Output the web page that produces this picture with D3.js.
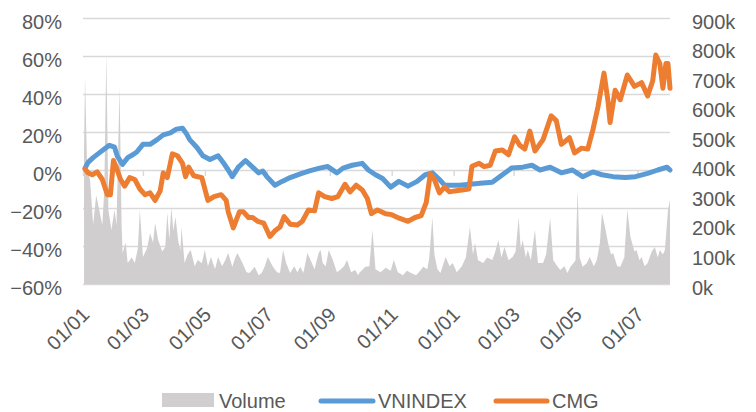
<!DOCTYPE html>
<html>
<head>
<meta charset="utf-8">
<script src="https://cdn.jsdelivr.net/npm/d3@7"></script>
<style>
  html, body { margin: 0; padding: 0; background: #fff; }
  svg text { font-family: "Liberation Sans", Arial, sans-serif; fill: #595959; }
</style>
</head>
<body>
<div id="chart"></div>
<script>
// Tick labels for the date axis (every 2 months)
var tickDates = ["2017-01-01","2017-03-01","2017-05-01","2017-07-01","2017-09-01","2017-11-01",
                 "2018-01-01","2018-03-01","2018-05-01","2018-07-01"];
var leftTicks = [-0.6, -0.4, -0.2, 0, 0.2, 0.4, 0.6, 0.8];
var rightTicks = [0, 100000, 200000, 300000, 400000, 500000, 600000, 700000, 800000, 900000];

// CMG: % change
var cmgDates = ["2017-01-03","2017-01-06","2017-01-10","2017-01-15","2017-01-20","2017-01-25","2017-01-28","2017-01-31",
  "2017-02-03","2017-02-07","2017-02-11","2017-02-16","2017-02-21","2017-02-26","2017-03-03","2017-03-08","2017-03-13",
  "2017-03-18","2017-03-21","2017-03-25","2017-03-30","2017-04-04","2017-04-09","2017-04-12","2017-04-15","2017-04-20",
  "2017-04-28","2017-05-04","2017-05-10","2017-05-17","2017-05-22","2017-05-24","2017-05-29","2017-06-04","2017-06-08",
  "2017-06-13","2017-06-17","2017-06-22","2017-06-28","2017-07-04","2017-07-09","2017-07-14","2017-07-18","2017-07-24",
  "2017-07-31","2017-08-05","2017-08-11","2017-08-17","2017-08-21","2017-08-27","2017-09-03","2017-09-09","2017-09-16",
  "2017-09-21","2017-09-27","2017-10-03","2017-10-08","2017-10-12","2017-10-18","2017-10-26","2017-11-01","2017-11-09",
  "2017-11-17","2017-11-24","2017-11-30","2017-12-05","2017-12-09","2017-12-13","2017-12-18","2017-12-23","2017-12-28",
  "2018-01-02","2018-01-09","2018-01-16","2018-01-19","2018-01-26","2018-01-31","2018-02-06","2018-02-11","2018-02-18",
  "2018-02-24","2018-03-02","2018-03-07","2018-03-12","2018-03-17","2018-03-22","2018-03-30","2018-04-07","2018-04-12",
  "2018-04-17","2018-04-25","2018-04-30","2018-05-07","2018-05-13","2018-05-18","2018-05-23","2018-05-29","2018-06-02",
  "2018-06-04","2018-06-09","2018-06-14","2018-06-21","2018-06-28","2018-07-05","2018-07-11","2018-07-16","2018-07-19",
  "2018-07-23","2018-07-26","2018-07-29","2018-07-31","2018-08-02"];
var cmgPct = [0.5,-1.5,-2.5,-1,-5,-13,-13,5,
  1,-5,-8.5,-4,-5,-10,-13,-12,-16,
  -11,-1.5,-4,8.5,7.5,3.5,-3.5,1.5,-3,
  -4,-16,-14,-13,-16,-22,-30.5,-22,-22,
  -25,-25,-27,-28,-35,-32,-30,-24.5,-28.5,
  -29,-27,-21,-21.5,-12,-14,-15,-14,-7.5,
  -11.5,-8,-10.5,-15,-23,-21,-23,-23.5,-25.5,
  -27,-25,-24,-17,-2,-5,-12,-9,-11.5,
  -11,-10.5,-10,2,3.5,1.8,2.5,10,10.5,
  8,17.5,13,11,20.5,10,16,28.5,26,
  13.5,17,9,11.5,11,21,33,51,36,
  25,42,37,50,44,46,39,47,60.5,
  56,43,56,56,43];

// VNINDEX: % change
var vnDates = ["2017-01-03","2017-01-06","2017-01-11","2017-01-17","2017-01-22","2017-01-27","2017-02-01","2017-02-04",
  "2017-02-09","2017-02-14","2017-02-19","2017-02-23","2017-03-01","2017-03-08","2017-03-15","2017-03-21","2017-03-28",
  "2017-04-03","2017-04-09","2017-04-13","2017-04-16","2017-04-23","2017-04-29","2017-05-06","2017-05-14","2017-05-19",
  "2017-05-24","2017-05-28","2017-06-03","2017-06-10","2017-06-18","2017-06-23","2017-06-27","2017-07-01","2017-07-09",
  "2017-07-16","2017-07-24","2017-08-03","2017-08-12","2017-08-22","2017-08-30","2017-09-08","2017-09-14","2017-09-23",
  "2017-10-03","2017-10-09","2017-10-16","2017-10-23","2017-10-31","2017-11-08","2017-11-17","2017-11-26","2017-12-04",
  "2017-12-11","2017-12-18","2017-12-23","2018-01-07","2018-01-17","2018-01-27","2018-02-08","2018-02-18","2018-02-27",
  "2018-03-10","2018-03-19","2018-03-27","2018-04-06","2018-04-17","2018-04-28","2018-05-08","2018-05-18","2018-05-27",
  "2018-06-07","2018-06-19","2018-06-29","2018-07-11","2018-07-21","2018-07-30","2018-08-02"];
var vnPct = [1,4,6.5,9,11,13,12,7,
  3,6.5,8,9.5,13.5,13.5,16,18.5,19.5,
  21.5,22,19,16,12,7.5,5.5,7.5,4,
  0,-3.5,1.5,5,1,-1.5,-0.5,-3.5,-8,
  -6,-4,-2,-0.5,1,1.8,-1.5,1,2.5,
  3.5,0,-2.5,-4.5,-9,-6,-8.5,-6,-2.5,
  -1.5,-5,-8,-8,-7.5,-7,-6.5,-2.5,1,
  1.5,2.5,0,1.5,-1.5,0,-3.5,-1,-2.5,
  -3.5,-4,-3.5,-1.8,0,1.5,0];

// Volume (thousand shares)
var volDates = ["2017-01-02","2017-01-03","2017-01-05","2017-01-08","2017-01-11","2017-01-14","2017-01-17","2017-01-20",
  "2017-01-22","2017-01-24","2017-01-26","2017-01-29","2017-02-01","2017-02-03","2017-02-06","2017-02-08","2017-02-09",
  "2017-02-12","2017-02-14","2017-02-18","2017-02-21","2017-02-24","2017-02-26","2017-03-01","2017-03-05","2017-03-08",
  "2017-03-11","2017-03-13","2017-03-16","2017-03-20","2017-03-23","2017-03-25","2017-03-27","2017-03-29","2017-03-31",
  "2017-04-02","2017-04-05","2017-04-07","2017-04-08","2017-04-11","2017-04-14","2017-04-17","2017-04-21","2017-04-24",
  "2017-04-28","2017-05-01","2017-05-04","2017-05-07","2017-05-11","2017-05-14","2017-05-18","2017-05-21","2017-05-24",
  "2017-05-28","2017-05-31","2017-06-02","2017-06-07","2017-06-11","2017-06-14","2017-06-19","2017-06-23","2017-06-26",
  "2017-06-29","2017-07-02","2017-07-07","2017-07-11","2017-07-14","2017-07-17","2017-07-20","2017-07-24","2017-07-28",
  "2017-07-31","2017-08-03","2017-08-06","2017-08-10","2017-08-13","2017-08-17","2017-08-21","2017-08-23","2017-08-25",
  "2017-08-28","2017-08-31","2017-09-04","2017-09-08","2017-09-11","2017-09-15","2017-09-18","2017-09-22","2017-09-26",
  "2017-09-29","2017-09-30","2017-10-06","2017-10-10","2017-10-13","2017-10-16","2017-10-21","2017-10-26","2017-10-31",
  "2017-11-03","2017-11-07","2017-11-12","2017-11-16","2017-11-20","2017-11-25","2017-11-29","2017-12-02","2017-12-06",
  "2017-12-08","2017-12-11","2017-12-13","2017-12-16","2017-12-19","2017-12-24","2017-12-28","2017-12-31","2018-01-04",
  "2018-01-09","2018-01-13","2018-01-17","2018-01-20","2018-01-22","2018-01-25","2018-01-30","2018-02-03","2018-02-08",
  "2018-02-11","2018-02-14","2018-02-17","2018-02-20","2018-02-24","2018-02-28","2018-03-03","2018-03-06","2018-03-08",
  "2018-03-10","2018-03-13","2018-03-15","2018-03-18","2018-03-22","2018-03-25","2018-03-30","2018-04-02","2018-04-06",
  "2018-04-09","2018-04-13","2018-04-16","2018-04-20","2018-04-23","2018-04-26","2018-04-29","2018-05-01","2018-05-03",
  "2018-05-05","2018-05-08","2018-05-12","2018-05-15","2018-05-19","2018-05-22","2018-05-25","2018-05-27","2018-05-30",
  "2018-06-02","2018-06-05","2018-06-07","2018-06-11","2018-06-14","2018-06-18","2018-06-21","2018-06-24","2018-06-28",
  "2018-06-30","2018-07-03","2018-07-05","2018-07-08","2018-07-11","2018-07-15","2018-07-18","2018-07-21","2018-07-23",
  "2018-07-26","2018-07-28","2018-07-31","2018-08-02"];
var volK = [450,700,400,350,200,300,250,200,
  320,780,250,183,250,200,667,200,105,
  140,71,90,71,120,250,91,120,172,
  140,206,149,110,125,240,150,260,180,
  227,140,115,193,71,100,115,60,81,
  70,115,60,91,50,91,60,80,105,
  58,90,105,71,40,37,58,30,37,
  60,91,58,40,37,115,71,37,60,
  40,58,37,105,81,50,105,115,71,
  60,115,81,40,47,60,81,40,47,
  30,37,58,60,183,50,40,55,45,
  81,40,30,45,37,30,45,58,50,
  90,227,100,50,37,91,60,71,40,
  60,90,193,100,139,80,71,90,81,
  110,149,90,125,80,91,110,227,120,
  149,90,115,80,183,71,71,100,223,
  81,60,47,60,37,58,71,80,320,
  90,58,70,91,60,81,140,240,193,
  139,100,105,60,58,90,250,160,110,
  115,80,91,60,71,110,125,90,115,
  100,115,250,284];

var parse = d3.timeParse("%Y-%m-%d");
var fmt = d3.timeFormat("%d/%m");

var width = 756, height = 412,
    plotLeft = 83, plotRight = 670, plotTop = 18, plotBottom = 284;

var svg = d3.select("#chart").append("svg")
  .attr("width", width)
  .attr("height", height);

var x = d3.scaleTime()
  .domain([parse("2017-01-01"), parse("2018-08-02")])
  .range([plotLeft, plotRight]);
var yL = d3.scaleLinear().domain([-0.6, 0.8]).range([plotBottom, plotTop]);
var yR = d3.scaleLinear().domain([0, 900000]).range([plotBottom, plotTop]);

// gridlines
var grid = svg.append("g")
  .attr("transform", "translate(" + plotLeft + ",0)")
  .call(d3.axisLeft(yL).tickValues(leftTicks).tickSize(-(plotRight - plotLeft)).tickFormat(""));
grid.select(".domain").remove();
grid.selectAll("line").attr("stroke", "#d9d9d9").attr("stroke-width", 1.4);

// volume area
var volData = volDates.map(function(d, i) { return { date: parse(d), v: volK[i] * 1000 }; });
svg.append("path")
  .datum(volData)
  .attr("fill", "#d0cece")
  .attr("d", d3.area()
    .x(function(d) { return x(d.date); })
    .y0(yR(0))
    .y1(function(d) { return yR(d.v); }));

// small tick marks on the 0% axis
var zeroAxis = svg.append("g")
  .attr("transform", "translate(0," + yL(0) + ")")
  .call(d3.axisBottom(x).tickValues(tickDates.map(parse)).tickSize(6).tickFormat(""));
zeroAxis.select(".domain").remove();
zeroAxis.selectAll("line").attr("stroke", "#d9d9d9").attr("stroke-width", 1.4);

// lines
var line = d3.line()
  .x(function(d) { return x(d.date); })
  .y(function(d) { return yL(d.v); });

var vnData = vnDates.map(function(d, i) { return { date: parse(d), v: vnPct[i] / 100 }; });
var cmgData = cmgDates.map(function(d, i) { return { date: parse(d), v: cmgPct[i] / 100 }; });

svg.append("path").datum(vnData)
  .attr("fill", "none").attr("stroke", "#5b9bd5").attr("stroke-width", 5)
  .attr("stroke-linejoin", "round").attr("stroke-linecap", "round")
  .attr("d", line);
svg.append("path").datum(cmgData)
  .attr("fill", "none").attr("stroke", "#ed7d31").attr("stroke-width", 5)
  .attr("stroke-linejoin", "round").attr("stroke-linecap", "round")
  .attr("d", line);

// left axis labels
var leftAxis = svg.append("g")
  .attr("transform", "translate(62,0)")
  .call(d3.axisLeft(yL).tickValues(leftTicks).tickSize(0).tickPadding(0).tickFormat(d3.format(".0%")));
leftAxis.select(".domain").remove();
leftAxis.selectAll("text").attr("font-size", 20).attr("dy", 10).attr("fill", "#595959");

// right axis labels
var rightAxis = svg.append("g")
  .attr("transform", "translate(692,0)")
  .call(d3.axisRight(yR).tickValues(rightTicks).tickSize(0).tickPadding(0)
    .tickFormat(function(d) { return (d / 1000) + "k"; }));
rightAxis.select(".domain").remove();
rightAxis.selectAll("text").attr("font-size", 20).attr("dy", 10).attr("fill", "#595959");

// date labels, rotated
var dateAxis = svg.append("g")
  .attr("transform", "translate(0," + plotBottom + ")")
  .call(d3.axisBottom(x).tickValues(tickDates.map(parse)).tickSize(0).tickFormat(fmt));
dateAxis.select(".domain").remove();
dateAxis.selectAll("text")
  .attr("font-size", 20)
  .attr("fill", "#595959")
  .attr("x", 0).attr("y", 0).attr("dy", 0)
  .attr("text-anchor", "end")
  .attr("transform", "translate(7,32) rotate(-45)");

// legend
var lg = svg.append("g").attr("font-size", 20);
lg.append("rect").attr("x", 162).attr("y", 393).attr("width", 52).attr("height", 14).attr("fill", "#d0cece");
lg.append("text").attr("x", 219).attr("y", 408).text("Volume");
lg.append("line").attr("x1", 321).attr("x2", 373).attr("y1", 401).attr("y2", 401)
  .attr("stroke", "#5b9bd5").attr("stroke-width", 5).attr("stroke-linecap", "round");
lg.append("text").attr("x", 378).attr("y", 408).text("VNINDEX");
lg.append("line").attr("x1", 496).attr("x2", 547).attr("y1", 401).attr("y2", 401)
  .attr("stroke", "#ed7d31").attr("stroke-width", 5).attr("stroke-linecap", "round");
lg.append("text").attr("x", 552).attr("y", 408).text("CMG");
</script>
</body>
</html>
